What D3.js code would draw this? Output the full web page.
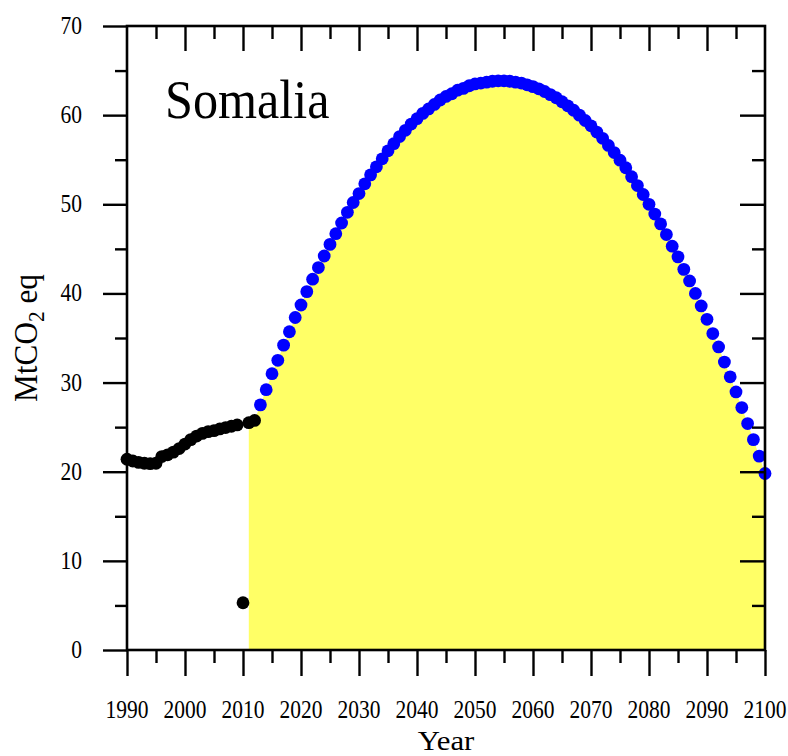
<!DOCTYPE html>
<html>
<head>
<meta charset="utf-8">
<script src="https://cdn.jsdelivr.net/npm/d3@7"></script>
<style>
  html, body { margin: 0; padding: 0; background: #fff; }
  svg { display: block; }
  text { font-family: "Liberation Serif", "Times New Roman", serif; fill: #000; }
</style>
</head>
<body>
<svg id="chart" width="788" height="756"></svg>
<script>
// ---- data ----
const histYears = d3.range(1990, 2013);
const histValues = [
  21.4, 21.2, 21.05, 20.95, 20.9, 20.95, 21.7, 21.9, 22.2, 22.6,   // 1990-1999
  23.1, 23.6, 24.0, 24.3, 24.5, 24.6, 24.8, 24.95, 25.1, 25.25,    // 2000-2009
  5.3, 25.5, 25.75                                                 // 2010-2012
];
const projYears = d3.range(2013, 2101);
const projValues = [
  27.5, 29.2, 31.0, 32.5, 34.2, 35.7, 37.3,                        // 2013-2019
  38.7, 40.2, 41.6, 42.9, 44.2, 45.5, 46.7, 47.9, 49.1, 50.2,      // 2020-2029
  51.2, 52.3, 53.3, 54.2, 55.1, 56.0, 56.8, 57.6, 58.3, 59.0,      // 2030-2039
  59.6, 60.2, 60.7, 61.2, 61.7, 62.1, 62.4, 62.8, 63.0, 63.3,      // 2040-2049
  63.5, 63.6, 63.7, 63.8, 63.85, 63.85, 63.8, 63.7, 63.6, 63.4,    // 2050-2059
  63.2, 62.95, 62.65, 62.3, 61.95, 61.5, 61.05, 60.55, 60.0, 59.4, // 2060-2069
  58.8, 58.1, 57.4, 56.6, 55.8, 54.95, 54.1, 53.1, 52.1, 51.1,     // 2070-2079
  50.0, 48.9, 47.8, 46.6, 45.3, 44.1, 42.7, 41.4, 40.0, 38.6,      // 2080-2089
  37.1, 35.5, 34.0, 32.3, 30.65, 28.95, 27.2, 25.4, 23.6, 21.75,   // 2090-2099
  19.8                                                             // 2100
];
const areaStartYear = 2011;
const xMajorTicks = [1990, 2000, 2010, 2020, 2030, 2040, 2050, 2060, 2070, 2080, 2090, 2100];
const xMinorTicks = [1995, 2005, 2015, 2025, 2035, 2045, 2055, 2065, 2075, 2085, 2095];
const yMajorTicks = [0, 10, 20, 30, 40, 50, 60, 70];
const yMinorTicks = [5, 15, 25, 35, 45, 55, 65];
const titleText = "Somalia";

// ---- layout ----
const svg = d3.select("#chart");
const L = 127, R = 765, T = 26, B = 650;
const x = d3.scaleLinear().domain([1990, 2100]).range([L, R]);
const y = d3.scaleLinear().domain([0, 70]).range([B, T]);
const TXS = 0.86; // horizontal compression of text

const hist = histYears.map((yr, i) => ({ year: yr, value: histValues[i] }));
const proj = projYears.map((yr, i) => ({ year: yr, value: projValues[i] }));
const areaData = hist.filter(d => d.year >= areaStartYear).concat(proj);

// yellow area
svg.append("path")
  .datum(areaData)
  .attr("fill", "#ffff66")
  .attr("d", d3.area().x(d => x(d.year)).y0(y(0)).y1(d => y(d.value)));

// points
const r = 6.4;
svg.append("g").selectAll("circle").data(hist).join("circle")
  .attr("cx", d => x(d.year)).attr("cy", d => y(d.value)).attr("r", r).attr("fill", "#000");
svg.append("g").selectAll("circle").data(proj).join("circle")
  .attr("cx", d => x(d.year)).attr("cy", d => y(d.value)).attr("r", r).attr("fill", "#0000ff");

// axes
function styleAxis(g) {
  g.select(".domain").remove();
  g.selectAll("line").attr("stroke", "#000").attr("stroke-width", 2.4);
  g.selectAll("text").remove();
}
svg.append("g").attr("transform", `translate(${L},0)`)
  .call(d3.axisLeft(y).tickValues(yMajorTicks).tickSize(24)).call(styleAxis);
svg.append("g").attr("transform", `translate(${L},0)`)
  .call(d3.axisLeft(y).tickValues(yMinorTicks).tickSize(12)).call(styleAxis);
svg.append("g").attr("transform", `translate(${R},0)`)
  .call(d3.axisLeft(y).tickValues(yMajorTicks.slice(1, -1)).tickSize(25)).call(g => {
    styleAxis(g);
    g.selectAll("line").attr("x2", -25);
  });
svg.append("g").attr("transform", `translate(${R},0)`)
  .call(d3.axisLeft(y).tickValues(yMinorTicks).tickSize(13)).call(g => {
    styleAxis(g);
    g.selectAll("line").attr("x2", -13);
  });
svg.append("g").attr("transform", `translate(0,${B})`)
  .call(d3.axisBottom(x).tickValues(xMajorTicks).tickSize(26)).call(styleAxis);
svg.append("g").attr("transform", `translate(0,${B})`)
  .call(d3.axisBottom(x).tickValues(xMinorTicks).tickSize(13)).call(styleAxis);
svg.append("g").attr("transform", `translate(0,${T})`)
  .call(d3.axisBottom(x).tickValues(xMajorTicks.slice(1, -1)).tickSize(25)).call(styleAxis);
svg.append("g").attr("transform", `translate(0,${T})`)
  .call(d3.axisBottom(x).tickValues(xMinorTicks).tickSize(13)).call(styleAxis);

// frame
svg.append("rect").attr("x", L).attr("y", T).attr("width", R - L).attr("height", B - T)
  .attr("fill", "none").attr("stroke", "#000").attr("stroke-width", 2.6);

// tick labels
svg.append("g").selectAll("text").data(yMajorTicks).join("text")
  .attr("transform", d => `translate(82,${y(d) + 8}) scale(${TXS},1)`)
  .attr("text-anchor", "end").attr("font-size", 25).text(d => d);
svg.append("g").selectAll("text").data(xMajorTicks).join("text")
  .attr("transform", d => `translate(${x(d)},${718}) scale(${TXS},1)`)
  .attr("text-anchor", "middle").attr("font-size", 25).text(d => d);

// axis titles
svg.append("text")
  .attr("transform", `translate(${(L + R) / 2},749.5) scale(1.1,1)`)
  .attr("text-anchor", "middle").attr("font-size", 28).text("Year");
const yt = svg.append("text")
  .attr("transform", `translate(37,${(T + B) / 2}) rotate(-90) scale(0.92,1)`)
  .attr("text-anchor", "middle").attr("font-size", 34);
yt.append("tspan").text("MtCO");
yt.append("tspan").attr("font-size", 23).attr("dy", 7).text("2");
yt.append("tspan").attr("dy", -7).text(" eq");

// title
svg.append("text")
  .attr("transform", `translate(165,118) scale(0.93,1)`)
  .attr("font-size", 54).text(titleText);
</script>
</body>
</html>
